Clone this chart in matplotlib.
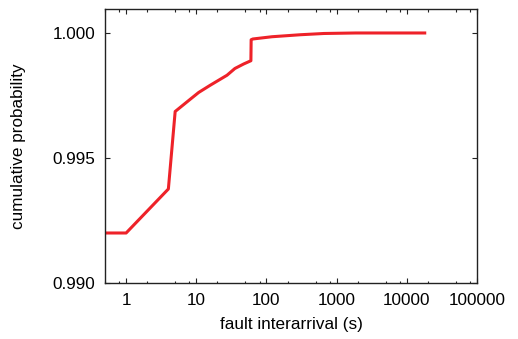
import numpy as np
import matplotlib
matplotlib.use("Agg")
import matplotlib.pyplot as plt
from matplotlib.ticker import FixedLocator, NullFormatter, NullLocator

# CDF of fault interarrival times
interarrival = [0.5, 1, 4, 5, 8.2, 10.8, 15.8, 27.4, 35.5, 47.3, 60, 60.5, 64,
                120, 305, 660, 1860, 18000]
cum_prob = [0.99200, 0.99200, 0.99376, 0.99686, 0.99735, 0.99762, 0.99791,
            0.99831, 0.99858, 0.99876, 0.99889, 0.99973, 0.99976, 0.99985,
            0.99993, 0.99998, 1.00000, 1.00000]

x_ticks = [1, 10, 100, 1000, 10000, 100000]
x_tick_labels = ["1", "10", "100", "1000", "10000", "100000"]
y_ticks = [0.990, 0.995, 1.000]
y_tick_labels = ["0.990", "0.995", "1.000"]

plt.rcParams["font.family"] = ["Liberation Sans", "DejaVu Sans"]
plt.rcParams["font.size"] = 12.3

fig = plt.figure(figsize=(5.18, 3.39), dpi=100)
ax = fig.add_axes([0.2027, 0.1652, 0.9208 - 0.2027, 0.9735 - 0.1652])

ax.plot(interarrival, cum_prob, color="#ee2229", linewidth=2.2)

ax.set_xscale("log")
ax.set_xlim(0.5, 100000)
ax.set_ylim(0.990, 1.00096)

ax.set_xticks(x_ticks)
ax.set_xticklabels(x_tick_labels)
minor = [m * 10.0 ** e for e in range(-1, 5) for m in (2, 5, 8)]
ax.xaxis.set_minor_locator(FixedLocator(minor))
ax.xaxis.set_minor_formatter(NullFormatter())
ax.set_yticks(y_ticks)
ax.set_yticklabels(y_tick_labels)
ax.yaxis.set_minor_locator(NullLocator())

ax.tick_params(which="both", direction="in", top=True, right=True, width=0.8,
               color="#222222")
ax.tick_params(which="major", length=3.5, pad=7)
ax.tick_params(which="minor", length=1.8)
for s in ax.spines.values():
    s.set_linewidth(1.0)
    s.set_color("#222222")

ax.set_xlabel("fault interarrival (s)", labelpad=7)
ax.set_ylabel("cumulative probability", labelpad=19)

fig.savefig("out.png", dpi=100)
